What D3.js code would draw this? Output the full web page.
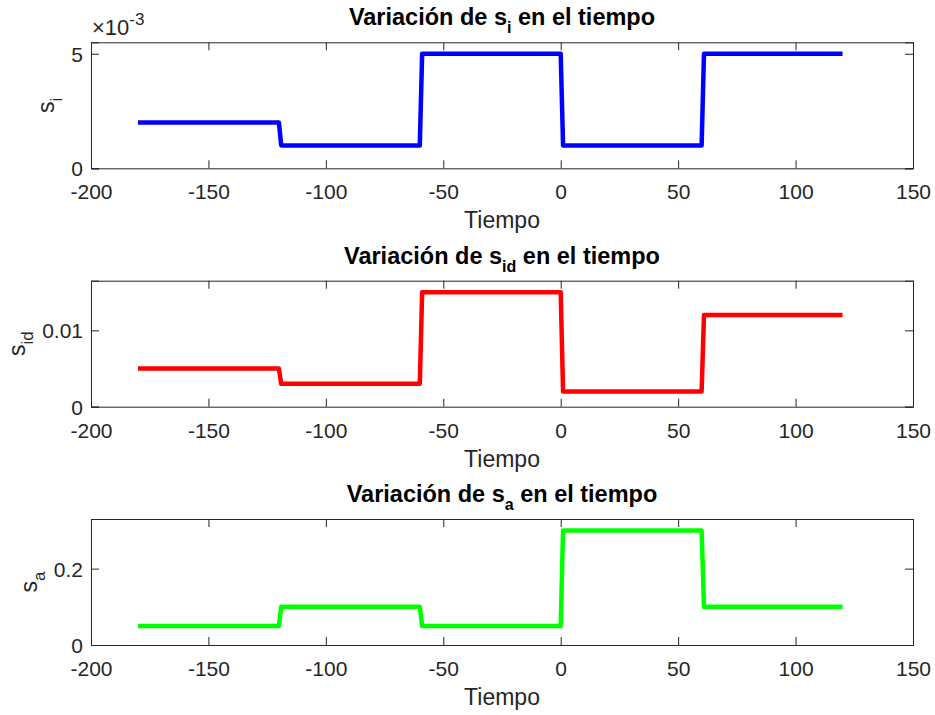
<!DOCTYPE html>
<html>
<head>
<meta charset="utf-8">
<script src="https://cdn.jsdelivr.net/npm/d3@7"></script>
<style>
  html, body { margin: 0; padding: 0; background: #ffffff; }
  svg { display: block; }
  text { font-family: "Liberation Sans", Arial, Helvetica, sans-serif; }
</style>
</head>
<body>
<svg id="fig" width="935" height="715"></svg>
<script>
// Sample times (step changes every 60 time units)
const tiempo = [-180, -120, -119, -60, -59, 0, 1, 60, 61, 120];

// s_i over time
const siValues = [0.002, 0.002, 0.001, 0.001, 0.005, 0.005, 0.001, 0.001, 0.005, 0.005];
// s_id over time
const sidValues = [0.005, 0.005, 0.003, 0.003, 0.015, 0.015, 0.002, 0.002, 0.012, 0.012];
// s_a over time
const saValues = [0.05, 0.05, 0.1, 0.1, 0.05, 0.05, 0.3, 0.3, 0.1, 0.1];

const xTicks = [-200, -150, -100, -50, 0, 50, 100, 150];
const siTicks = [0, 0.005];
const sidTicks = [0, 0.01];
const saTicks = [0, 0.2];

const xDomain = [-200, 150];

const panels = [
  { sub: "i",  values: siValues,  color: "#0000ff", ticks: siTicks,  yMax: 0.0055,
    fmt: d => d3.format("~g")(d * 1000), exponent: "-3", top: 42.3 },
  { sub: "id", values: sidValues, color: "#ff0000", ticks: sidTicks, yMax: 0.0165,
    fmt: d => d === 0 ? "0" : d3.format("~g")(d), exponent: null, top: 280.7 },
  { sub: "a",  values: saValues,  color: "#00ff00", ticks: saTicks,  yMax: 0.33,
    fmt: d => d === 0 ? "0" : d3.format("~g")(d), exponent: null, top: 519 }
];

const left = 91, right = 913, axH = 126;
const axisColor = "#262626";
const tickLen = 8;
const tickFont = 21, labelFont = 23, titleFont = 23.5;

const svg = d3.select("#fig");

const x = d3.scaleLinear().domain(xDomain).range([left, right]);

panels.forEach(p => {
  const top = p.top, bottom = top + axH;
  const y = d3.scaleLinear().domain([0, p.yMax]).range([bottom, top]);
  const g = svg.append("g");

  // Bottom x axis with tick labels
  const xAxis = g.append("g")
    .attr("transform", `translate(0,${bottom})`)
    .call(d3.axisBottom(x).tickValues(xTicks).tickSize(-tickLen).tickPadding(tickLen + 7)
      .tickFormat(d3.format("d")));
  // Top x axis (ticks only)
  const xTop = g.append("g")
    .attr("transform", `translate(0,${top})`)
    .call(d3.axisTop(x).tickValues(xTicks).tickSize(-tickLen).tickFormat(""));
  // Left y axis with tick labels
  const yAxis = g.append("g")
    .attr("transform", `translate(${left},0)`)
    .call(d3.axisLeft(y).tickValues(p.ticks).tickSize(-tickLen).tickPadding(tickLen + 8)
      .tickFormat(p.fmt));
  // Right y axis (ticks only)
  const yRight = g.append("g")
    .attr("transform", `translate(${right},0)`)
    .call(d3.axisRight(y).tickValues(p.ticks).tickSize(-tickLen).tickFormat(""));

  [xAxis, xTop, yAxis, yRight].forEach(a => {
    a.select(".domain").attr("stroke", axisColor).attr("stroke-width", 1);
    a.selectAll(".tick line").attr("stroke", axisColor).attr("stroke-width", 1);
    a.selectAll(".tick text").attr("fill", axisColor).attr("font-size", tickFont)
      .attr("font-family", "Liberation Sans, Arial, sans-serif");
  });
  xAxis.selectAll(".tick text").attr("dy", null).attr("y", 31).attr("dominant-baseline", "alphabetic");
  xAxis.selectAll(".tick text").text(d => d3.format("d")(d).replace("−", "-"));
  yAxis.selectAll(".tick text").attr("dy", "0.36em").attr("x", -8);

  // Data line
  const line = d3.line().x((d, i) => x(tiempo[i])).y(d => y(d));
  g.append("path")
    .datum(p.values)
    .attr("d", line)
    .attr("fill", "none")
    .attr("stroke", p.color)
    .attr("stroke-width", 4.5)
    .attr("stroke-linejoin", "round")
    .attr("stroke-linecap", "butt");

  // Title
  const title = g.append("text")
    .attr("x", (left + right) / 2)
    .attr("y", top - 17)
    .attr("text-anchor", "middle")
    .attr("font-size", titleFont)
    .attr("font-weight", "bold")
    .attr("fill", "#000000");
  title.append("tspan").text("Variación de s");
  title.append("tspan").attr("dy", 8).attr("font-size", 16).text(p.sub);
  title.append("tspan").attr("dy", -8).text(" en el tiempo");

  // X label
  g.append("text")
    .attr("x", (left + right) / 2)
    .attr("y", bottom + 60)
    .attr("text-anchor", "middle")
    .attr("font-size", labelFont)
    .attr("fill", axisColor)
    .text("Tiempo");

  // Y label placed left of the widest tick label
  let minX = left;
  yAxis.selectAll(".tick text").each(function () {
    const b = this.getBBox();
    const m = this.parentNode.transform.baseVal.consolidate();
    const tx = m ? m.matrix.e : 0;
    minX = Math.min(minX, left + tx + b.x);
  });
  const yl = g.append("text")
    .attr("transform", `translate(${minX - 17},${(top + bottom) / 2}) rotate(-90)`)
    .attr("text-anchor", "middle")
    .attr("font-size", labelFont)
    .attr("fill", axisColor);
  yl.append("tspan").text("s");
  yl.append("tspan").attr("dy", 8).attr("font-size", 17).text(p.sub);

  // Exponent multiplier
  if (p.exponent) {
    const ex = g.append("text")
      .attr("x", left + 1)
      .attr("y", top - 7)
      .attr("font-size", 22)
      .attr("fill", axisColor);
    ex.append("tspan").text("×10");
    ex.append("tspan").attr("dy", -10).attr("font-size", 17).text(p.exponent);
  }
});
</script>
</body>
</html>
